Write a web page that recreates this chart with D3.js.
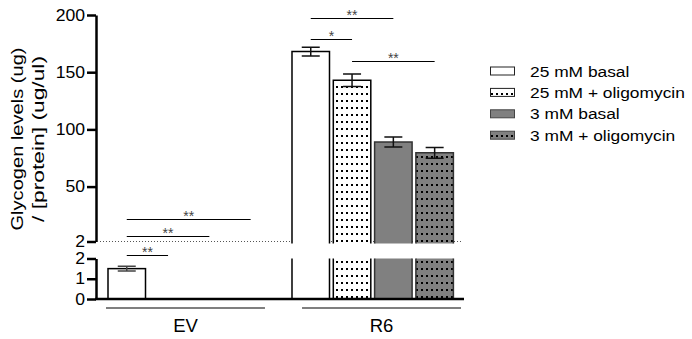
<!DOCTYPE html>
<html><head><meta charset="utf-8">
<script src="https://cdn.jsdelivr.net/npm/d3@7"></script>
<style>
html,body{margin:0;padding:0;background:#fff;}
text{font-family:"Liberation Sans",Arial,sans-serif;}
</style></head>
<body><svg id="chart" width="692" height="339"></svg>
<script>
// ---- data ----
const groups = ["EV", "R6"];
const series = ["25 mM basal", "25 mM + oligomycin", "3 mM basal", "3 mM + oligomycin"];
const evMeans = [1.5, 0, 0, 0];
const evErrors = [0.12, 0, 0, 0];
const r6Means = [168, 143, 89, 79.5];
const r6Errors = [3.8, 5.5, 4.4, 4.7];
const upperTicks = [2, 50, 100, 150, 200];
const lowerTicks = [0, 1, 2];
const titleLines = ["Glycogen levels (ug)", "/ [protein] (ug/ul)"];
const sigGroup = ["EV", "EV", "EV", "R6", "R6", "R6"];
const sigFrom = [0, 0, 0, 0, 0, 1];
const sigTo = [1, 2, 3, 2, 1, 3];
const sigLevel = [-9.5, 6.5, 22, 197, 179, 160];
const sigLabel = ["**", "**", "**", "**", "*", "**"];

const means = {EV: evMeans, R6: r6Means};
const errors = {EV: evErrors, R6: r6Errors};

// ---- layout ----
const svg = d3.select("#chart");
const axisX = 96;
const yU = d3.scaleLinear().domain([2, 200]).range([241.5, 15]);
const yL = d3.scaleLinear().domain([0, 2]).range([299, 258.5]);
const x0 = d3.scaleBand().domain(groups).range([108, 453.4]).paddingInner(0.1228).paddingOuter(0);
const x1 = d3.scaleBand().domain(d3.range(series.length)).range([0, x0.bandwidth()]).paddingInner(0.092).paddingOuter(0);
const xLab = d3.scaleBand().domain(groups).range([106, 461]).paddingInner(0.189).paddingOuter(0);

const fills = ["#ffffff", "url(#dotsW)", "#808080", "url(#dotsG)"];
const strokes = ["#000", "#000", "#333", "#333"];

const defs = svg.append("defs");
function pat(id, bg) {
  const p = defs.append("pattern").attr("id", id).attr("width", 5).attr("height", 7)
    .attr("patternUnits", "userSpaceOnUse");
  p.append("rect").attr("width", 5).attr("height", 7).attr("fill", bg);
  p.append("rect").attr("x", 1).attr("y", 2).attr("width", 2).attr("height", 2).attr("fill", "#000");
}
pat("dotsW", "#ffffff");
pat("dotsG", "#808080");

function stretch(sel, k) {
  sel.each(function () {
    const w = this.getComputedTextLength();
    this.setAttribute("textLength", w * k);
    this.setAttribute("lengthAdjust", "spacingAndGlyphs");
  });
}

// dotted break line
svg.append("line").attr("x1", 100).attr("x2", 463).attr("y1", yU(2)).attr("y2", yU(2))
  .attr("stroke", "#555").attr("stroke-width", 1).attr("stroke-dasharray", "1,2");

// bars
const gBars = svg.append("g");
groups.forEach(g => {
  means[g].forEach((v, i) => {
    if (v <= 0) return;
    const x = x0(g) + x1(i), w = x1.bandwidth();
    if (v > 2) {
      const top = yU(v), bot = yU(2) + 2;
      gBars.append("rect").attr("x", x).attr("y", top).attr("width", w).attr("height", bot - top).attr("fill", fills[i]);
      gBars.append("path").attr("d", `M${x},${bot}V${top}H${x + w}V${bot}`)
        .attr("fill", "none").attr("stroke", strokes[i]).attr("stroke-width", 1.5);
      const t2 = yL(2), b2 = yL(0);
      gBars.append("rect").attr("x", x).attr("y", t2).attr("width", w).attr("height", b2 - t2).attr("fill", fills[i]);
      gBars.append("path").attr("d", `M${x},${t2}V${b2}M${x + w},${t2}V${b2}`)
        .attr("fill", "none").attr("stroke", strokes[i]).attr("stroke-width", 1.5);
    } else {
      const top = yL(v), bot = yL(0);
      gBars.append("rect").attr("x", x).attr("y", top).attr("width", w).attr("height", bot - top)
        .attr("fill", fills[i]).attr("stroke", strokes[i]).attr("stroke-width", 1.5);
    }
  });
});

// error bars
groups.forEach(g => {
  means[g].forEach((v, i) => {
    const e = errors[g][i];
    if (v <= 0 || e <= 0) return;
    const y = v > 2 ? yU : yL;
    const cx = x0(g) + x1(i) + x1.bandwidth() / 2;
    const yt = y(v + e), yb = y(v - e);
    gBars.append("path").attr("d", `M${cx},${yt}V${yb}M${cx - 9},${yt}H${cx + 9}M${cx - 9},${yb}H${cx + 9}`)
      .attr("fill", "none").attr("stroke", v > 2 ? "#111" : "#444").attr("stroke-width", 1.5);
  });
});

// axes
const fmt = d3.format("d");
const axU = svg.append("g").attr("transform", `translate(${axisX},0)`)
  .call(d3.axisLeft(yU).tickValues(upperTicks).tickFormat(fmt).tickSize(9).tickSizeOuter(0).tickPadding(2));
const axL = svg.append("g").attr("transform", `translate(${axisX},0)`)
  .call(d3.axisLeft(yL).tickValues(lowerTicks).tickFormat(fmt).tickSize(9).tickSizeOuter(0).tickPadding(2));
[axU, axL].forEach(a => {
  a.select(".domain").attr("stroke", "#000").attr("stroke-width", 2.5);
  a.selectAll(".tick line").attr("stroke", "#000").attr("stroke-width", 2.5);
  a.selectAll(".tick text").attr("font-size", 16).attr("fill", "#000")
    .attr("font-family", "Liberation Sans, Arial, sans-serif");
  stretch(a.selectAll(".tick text"), 1.1);
});

// x axis baseline
svg.append("line").attr("x1", axisX - 1).attr("x2", 464).attr("y1", yL(0)).attr("y2", yL(0))
  .attr("stroke", "#000").attr("stroke-width", 2.5);

// group lines and labels
groups.forEach(g => {
  svg.append("line").attr("x1", xLab(g)).attr("x2", xLab(g) + xLab.bandwidth())
    .attr("y1", 308).attr("y2", 308).attr("stroke", "#000").attr("stroke-width", 1.2);
  svg.append("text").attr("x", xLab(g) + xLab.bandwidth() / 2).attr("y", 331.5)
    .attr("text-anchor", "middle").attr("font-size", 18.5).text(g);
});

// significance brackets
sigLabel.forEach((lab, k) => {
  const g = sigGroup[k];
  const xa = x0(g) + x1(sigFrom[k]) + x1.bandwidth() / 2;
  const xb = x0(g) + x1(sigTo[k]) + x1.bandwidth() / 2;
  const y = Math.round(yU(sigLevel[k])) + 0.5;
  svg.append("line").attr("x1", xa).attr("x2", xb).attr("y1", y).attr("y2", y)
    .attr("stroke", "#000").attr("stroke-width", 1);
  svg.append("text").attr("x", (xa + xb) / 2).attr("y", y + 1.5).attr("text-anchor", "middle")
    .attr("font-size", 14).attr("fill", "#444").text(lab);
});

// y title
const tl = svg.append("g").attr("transform", "translate(0,139) rotate(-90)");
const titleX = [23, 44];
const titleLen = [183, 166];
titleLines.forEach((t, i) => {
  tl.append("text").attr("x", 0).attr("y", titleX[i]).attr("text-anchor", "middle")
    .attr("font-size", 17).attr("textLength", titleLen[i]).attr("lengthAdjust", "spacingAndGlyphs").text(t);
});

// legend
const leg = svg.append("g");
series.forEach((s, i) => {
  const cy = 71 + i * 21.4;
  leg.append("rect").attr("x", 490.5).attr("y", cy - 4).attr("width", 24).attr("height", 8)
    .attr("fill", fills[i]).attr("stroke", i >= 2 ? "#444" : "#222").attr("stroke-width", 1);
  const t = leg.append("text").attr("x", 530).attr("y", cy + 5.5).attr("font-size", 15.5).text(s);
  stretch(t, 1.12);
});
</script></body></html>
